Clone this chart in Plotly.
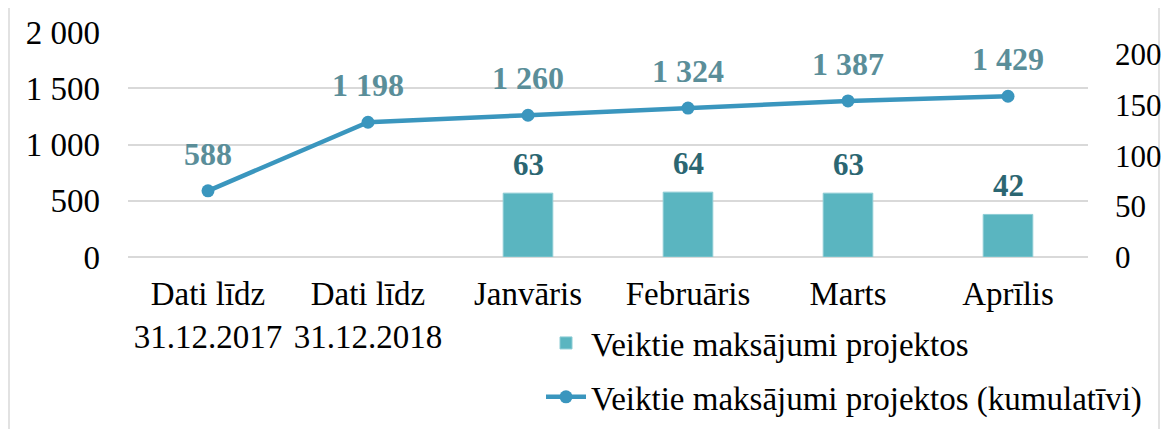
import plotly.graph_objects as go

categories = ["Dati līdz<br>31.12.2017", "Dati līdz<br>31.12.2018", "Janvāris", "Februāris", "Marts", "Aprīlis"]
monthly_payments = [None, None, 63, 64, 63, 42]
cumulative_payments = [588, 1198, 1260, 1324, 1387, 1429]
left_ticks = [0, 500, 1000, 1500, 2000]
right_ticks = [0, 50, 100, 150, 200]

FONT = "Liberation Serif, Times New Roman, serif"

fig = go.Figure()
fig.add_trace(go.Bar(
    x=categories, y=monthly_payments, yaxis="y2",
    name="Veiktie maksājumi projektos",
    marker=dict(color="#5AB5C0", line=dict(color="#8CCCD4", width=1)),
    width=0.31,
    legendgroup="a",
))
fig.add_trace(go.Scatter(
    x=categories, y=cumulative_payments, yaxis="y",
    name="Veiktie maksājumi projektos (kumulatīvi)",
    mode="lines+markers",
    line=dict(color="#3A96BE", width=4.5),
    marker=dict(color="#3A96BE", size=13),
    legendgroup="b",
))

annotations = []
for cat, v in zip(categories, cumulative_payments):
    annotations.append(dict(
        x=cat, y=v, xref="x", yref="y", text=f"{v:,}".replace(",", " "),
        showarrow=False, yshift=37,
        font=dict(family=FONT, size=32, color="#5A8E99", weight="bold"),
    ))
for cat, v in zip(categories, monthly_payments):
    if v is None:
        continue
    annotations.append(dict(
        x=cat, y=v, xref="x", yref="y2", text=str(v),
        showarrow=False, yshift=29,
        font=dict(family=FONT, size=31, color="#2B6672", weight="bold"),
    ))

# page body has an 8px margin; size the figure so it fills the window
W, H = 1162, 421
PL, PR, PT, PB = 128, 1088, 32, 257  # plot area in screen px
PH = PB - PT

fig.update_layout(
    width=W, height=H,
    margin=dict(l=PL - 8, r=W + 8 - PR, t=PT - 8, b=H + 8 - PB, autoexpand=False),
    paper_bgcolor="white", plot_bgcolor="white",
    separators=", ",
    font=dict(family=FONT, size=33, color="black"),
    bargap=0.69,
    showlegend=True,
    annotations=annotations,
    legend=dict(
        xref="container", yref="container",
        x=(541 - 8) / W, y=(H - (425 - 8)) / H, xanchor="left", yanchor="bottom",
        orientation="v", font=dict(family=FONT, size=33, color="black"),
        tracegroupgap=8, itemwidth=40, bgcolor="rgba(0,0,0,0)",
    ),
    xaxis=dict(
        showgrid=False, showline=False, ticks="", zeroline=False,
        ticklabelstandoff=14,
        tickfont=dict(family=FONT, size=33, color="black"),
    ),
    yaxis=dict(
        range=[0, 2000], tickvals=left_ticks, tickformat=",",
        showgrid=True, gridcolor="#D9D9D9", gridwidth=1.5,
        zeroline=True, zerolinecolor="#D9D9D9", zerolinewidth=1.5,
        showline=False, ticks="", ticklabelstandoff=27,
        tickfont=dict(family=FONT, size=33, color="black"),
    ),
    yaxis2=dict(
        range=[0, 222], tickvals=right_ticks, overlaying="y", side="right",
        showgrid=False, zeroline=False, showline=False, ticks="",
        ticklabelstandoff=26,
        tickfont=dict(family=FONT, size=31, color="black"),
    ),
    shapes=[dict(
        type="rect", xref="paper", yref="paper",
        x0=(9 - PL) / (PR - PL), x1=(1159 - PL) / (PR - PL),
        y0=(PB - 440) / PH, y1=(PB - 7) / PH,
        line=dict(color="#D9D9D9", width=1.5), fillcolor="rgba(0,0,0,0)", layer="below",
    )],
)

fig.write_html("out.html")
